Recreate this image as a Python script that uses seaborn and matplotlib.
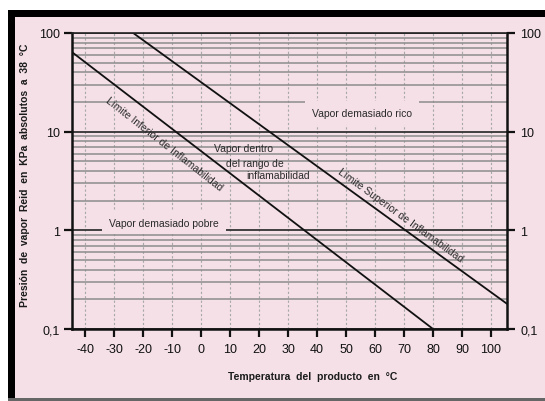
import seaborn as sns
import matplotlib.pyplot as plt
from matplotlib.patches import Rectangle
from matplotlib.ticker import LogLocator, NullFormatter

# valores
temp_ticks = [-40, -30, -20, -10, 0, 10, 20, 30, 40, 50, 60, 70, 80, 90, 100]
temp_labels = ["-40", "-30", "-20", "-10", "0", "10", "20", "30", "40", "50",
               "60", "70", "80", "90", "100"]
pres_ticks = [0.1, 1, 10, 100]
pres_labels = ["0,1", "1", "10", "100"]

# extremos de las rectas (temperatura en C, presion en KPa)
inferior_temp = [-44.5, 80]
inferior_pres = [64, 0.1]
superior_temp = [-23.4, 105.5]
superior_pres = [100, 0.18]

ROSA = "#f4e0e6"
W, H = 545, 402

sns.set_theme(style="ticks")
plt.rcParams['font.family'] = ['Liberation Sans', 'DejaVu Sans']

fig = plt.figure(figsize=(W / 100, H / 100), dpi=100, facecolor="white")

# marco escaneado: fondo rosa, barras negras arriba e izquierda
fig.patches.append(Rectangle((8 / W, 0), 1, 1 - 11 / H, transform=fig.transFigure,
                             facecolor=ROSA, edgecolor="none", zorder=-3))
fig.patches.append(Rectangle((8 / W, 1 - 18 / H), 1, 7 / H, transform=fig.transFigure,
                             facecolor="black", edgecolor="none", zorder=-2))
fig.patches.append(Rectangle((8 / W, 0), 7 / W, 1 - 11 / H, transform=fig.transFigure,
                             facecolor="black", edgecolor="none", zorder=-2))
fig.patches.append(Rectangle((8 / W, 0), 1, 3 / H, transform=fig.transFigure,
                             facecolor="#666666", edgecolor="none", zorder=-2))

ax = fig.add_axes([72 / W, 1 - 330 / H, (507 - 72) / W, (330 - 34) / H])
ax.set_facecolor(ROSA)

sns.lineplot(x=inferior_temp, y=inferior_pres, ax=ax, color="#111111", lw=1.3)
sns.lineplot(x=superior_temp, y=superior_pres, ax=ax, color="#111111", lw=1.3)

ax.set_yscale("log")
ax.set_ylim(0.1, 100)
ax.set_xlim(-44.5, 105.5)
ax.set_xticks(temp_ticks, temp_labels)
ax.set_yticks(pres_ticks, pres_labels)
ax.yaxis.set_minor_locator(LogLocator(base=10, subs=range(2, 10)))
ax.yaxis.set_minor_formatter(NullFormatter())
ax.tick_params(which="minor", length=0)
ax.tick_params(which="major", direction="out", length=6, width=1.6,
               labelsize=9, pad=2.5, colors="#111111")
ax.tick_params(axis="x", pad=4)

ax.grid(True, which="minor", axis="y", color="#8c8c8c", lw=1.1)
ax.grid(True, which="major", axis="y", color="#333333", lw=1.3)
ax.grid(True, which="major", axis="x", color="#a8a8a8", lw=0.8, ls=(0, (2, 2)))
ax.set_axisbelow(True)

for s in ["left", "bottom", "right"]:
    ax.spines[s].set_linewidth(1.8)
    ax.spines[s].set_color("#111111")
ax.spines["top"].set_linewidth(1.2)
ax.spines["top"].set_color("#222222")

# eje derecho
ax2 = ax.twinx()
ax2.set_yscale("log")
ax2.set_ylim(0.1, 100)
ax2.set_yticks(pres_ticks, pres_labels)
ax2.yaxis.set_minor_formatter(NullFormatter())
ax2.tick_params(which="minor", length=0)
ax2.tick_params(which="major", direction="out", length=6, width=1.6,
                labelsize=9, pad=3.5, colors="#111111")
ax2.grid(False)
for s in ax2.spines.values():
    s.set_visible(False)

# textos
txt = dict(color="#2a2a2a", fontsize=7.5)
ax.text(-12.6, 7.6, "Límite Inferior de Inflamabilidad", rotation=-38,
        rotation_mode="anchor", ha="center", va="center", **txt)
ax.text(68.8, 1.45, "Límite Superior de Inflamabilidad", rotation=-36,
        rotation_mode="anchor", ha="center", va="center", **txt)
ax.text(14.5, 6.9, "Vapor dentro", ha="center", va="center", **txt)
ax.text(18.6, 4.86, "del rango de", ha="center", va="center", **txt)
ax.text(26.6, 3.6, "inflamabilidad", ha="center", va="center", **txt)
ax.text(55.5, 15.6, "Vapor demasiado rico", ha="center", va="center",
        bbox=dict(facecolor=ROSA, edgecolor="none", pad=5), **txt)
ax.text(-12.8, 1.2, "Vapor demasiado pobre", ha="center", va="center",
        bbox=dict(facecolor=ROSA, edgecolor="none", pad=5), **txt)

fig.text(25 / W, 1 - 175 / H, "Presión  de  vapor  Reid  en  KPa  absolutos  a  38  °C",
         rotation=90, ha="center", va="center", fontsize=7.5, fontweight="bold",
         color="#1a1a1a")
fig.text(313 / W, 1 - 377 / H, "Temperatura  del  producto  en  °C",
         ha="center", va="center", fontsize=7.5, fontweight="bold", color="#1a1a1a")

fig.savefig("out.png", dpi=100, facecolor="white")
